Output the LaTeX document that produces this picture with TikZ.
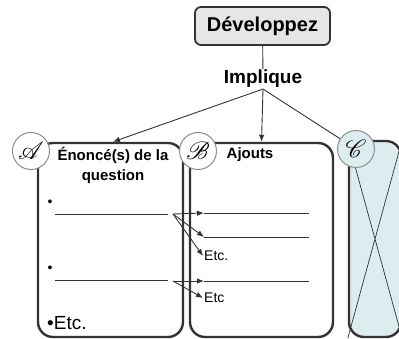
\documentclass[tikz,border=0pt]{standalone}
\usepackage{fontspec}
\setmainfont{Liberation Sans}
\usepackage{mathrsfs}
\usetikzlibrary{arrows.meta}
\definecolor{framegray}{HTML}{333333}
\definecolor{ringgray}{HTML}{8C8C8C}
\definecolor{titlefill}{HTML}{E6E6E6}
\definecolor{crossfill}{HTML}{DDECEE}
\tikzset{
 panel/.style={draw=framegray,line width=2.4pt,rounded corners=15pt,fill=white},
 badge/.style={circle,draw=ringgray,line width=1pt,fill=white,minimum size=37pt,inner sep=0pt,font=\fontsize{23}{23}\selectfont},
 pointer/.style={draw=framegray,line width=0.9pt,-{Latex[length=7pt,width=5.5pt]}},
 blank/.style={draw=framegray,line width=0.9pt},
}
\begin{document}
\begin{tikzpicture}[x=1pt,y=-1pt]
\useasboundingbox (0,0) rectangle (399,339);
% title and the word under it
\node[draw=framegray,fill=titlefill,line width=1.8pt,rounded corners=6pt,minimum width=135pt,minimum height=38pt,font=\fontsize{20}{24}\selectfont\bfseries] (dev) at (262.5,26) {Développez};
\node[inner sep=1pt,font=\fontsize{19}{22}\selectfont\bfseries] (impl) at (263,79) {Implique};
\draw[blank] (dev) -- (impl);
% the three panels
\node[panel,minimum width=145pt,minimum height=194pt] (boxA) at (110.5,240) {};
\node[panel,minimum width=143pt,minimum height=194pt] (boxB) at (261.5,240) {};
\node[panel,fill=crossfill,minimum width=52pt,minimum height=196pt] (boxC) at (375,239) {};
\draw[line width=0.7pt,draw=framegray] (boxC.north west) -- (boxC.south east)
 (boxC.north east) -- (boxC.south west);
\draw[pointer] (impl.south) -- ([xshift=2.5pt]boxA.north);
\draw[pointer] (impl.south) -- (boxB.north);
\node[badge] (markA) at (31,151) {$\mathscr{A}$};
\node[badge] (markB) at (198,151) {$\mathscr{B}$};
\node[badge,fill=crossfill] (markC) at (356,149) {$\mathscr{C}$};
\draw[blank] (impl.south) -- (markC);
% headings
\node[align=center,font=\fontsize{15}{20}\selectfont\bfseries] (headA) at (113,165) {Énoncé(s) de la\\question};
\node[font=\fontsize{15}{18}\selectfont\bfseries] (headB) at (250,155) {Ajouts};
% panel A : bullets and lines
\foreach \y in {203,269}
 \node[font=\fontsize{14}{14}\selectfont] at (50,\y) {•};
\node[anchor=west,inner sep=0pt,font=\fontsize{19}{22}\selectfont] (etcA) at (47,323) {•Etc.};
\coordinate (a1) at (173,214);
\coordinate (a2) at (173,281);
\draw[blank] (55,214) -- (168,214) (55,280) -- (168,280);
% panel B : lines
\foreach \y/\n in {213/b1,237/b2,281/b3}{
 \coordinate (\n) at (204,\y);
 \draw[blank] (\n) -- (309,\y);}
\node[anchor=west,inner sep=1pt,font=\fontsize{14}{16}\selectfont] (etcB) at (203,256) {Etc.};
\node[anchor=west,inner sep=1pt,font=\fontsize{14}{16}\selectfont] (etcC) at (203,298) {Etc};
\draw[pointer] (a1) -- (b1);
\draw[pointer] (a1) -- (b2);
\draw[pointer] (a1) -- (etcB.west);
\draw[pointer] (a2) -- (b3);
\draw[pointer] (a2) -- (etcC.west);
\end{tikzpicture}
\end{document}
